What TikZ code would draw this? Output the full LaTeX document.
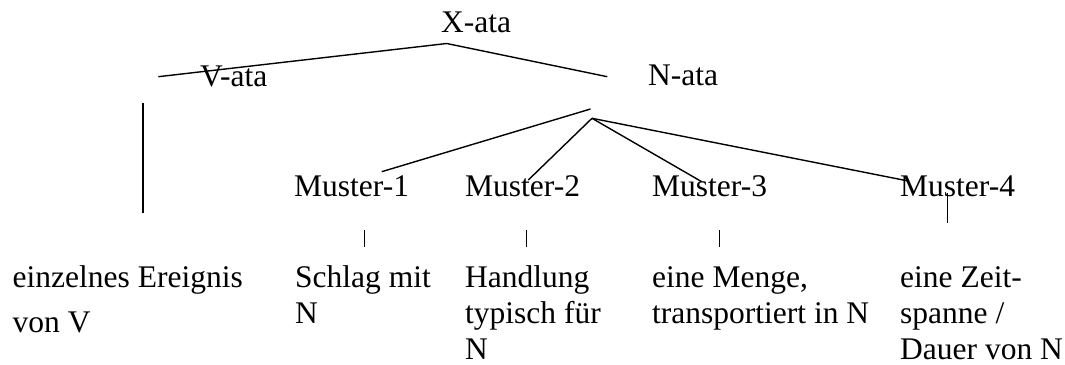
\documentclass[tikz,border=0pt]{standalone}
\usepackage{fontspec}
\setmainfont{Liberation Serif}
% lines of a gloss, stacked from the baseline of the first line
\newcommand{\glosslines}[1]{\vtop{\baselineskip=35.8pt\lineskiplimit=-100pt\halign{##\hfil\cr#1\crcr}}}
\begin{document}
\begin{tikzpicture}[x=1pt,y=-1pt,
  lbl/.style={anchor=base west,inner sep=0pt,font=\fontsize{31.5}{35.8}\selectfont},
  branch/.style={line width=1.4pt},
  tick/.style={line width=1pt}]
\useasboundingbox (0,0) rectangle (1065,364);
% labels of the tree
\node[lbl] (x)  at (441,32)  {X-ata};
\node[lbl] (v)  at (200,86)  {V-ata};
\node[lbl] (n)  at (648,85)  {N-ata};
\node[lbl] (m1) at (294,196) {Muster-1};
\node[lbl] (m2) at (465,196) {Muster-2};
\node[lbl] (m3) at (652,196) {Muster-3};
\node[lbl] (m4) at (900,196) {Muster-4};
% glosses
\node[lbl] (g0) at (12.5,287.5) {einzelnes Ereignis};
\node[lbl] (g0b) at (12.5,332) {von V};
\node[lbl] (g1) at (295,287.5) {\glosslines{Schlag mit\cr N}};
\node[lbl] (g2) at (465,287.5) {\glosslines{Handlung\cr typisch für\cr N}};
\node[lbl] (g3) at (652,287.5) {\glosslines{eine Menge,\cr transportiert in N}};
\node[lbl] (g4) at (900,287.5) {\glosslines{eine Zeit-\cr spanne /\cr Dauer von N}};
% branch points
\coordinate (xtop) at (446.7,43.5);
\coordinate (vend) at (158.3,76.7);
\coordinate (nend) at (607.3,76.7);
\coordinate (vtop) at (143,103);
\coordinate (vbot) at (143,213);
\coordinate (m1a) at (381.7,171.7);
\coordinate (m1b) at (590.5,109);
\coordinate (napex) at (592,118.3);
\coordinate (m2a) at (528.3,180);
\coordinate (m3a) at (701.7,181.7);
\coordinate (m4a) at (908.3,181);
\coordinate (t1a) at (364.3,230);   \coordinate (t1b) at (364.3,246.7);
\coordinate (t2a) at (526,230);     \coordinate (t2b) at (526,246.7);
\coordinate (t3a) at (719,230);     \coordinate (t3b) at (719,246.7);
\coordinate (t4a) at (947.7,193.3); \coordinate (t4b) at (947.7,223.3);
% branches
\draw[branch] (vend) -- (xtop) -- (nend);
\draw[branch] (vtop) -- (vbot);
\draw[branch] (m1a) -- (m1b);
\draw[branch] (napex) -- (m2a);
\draw[branch] (napex) -- (m3a);
\draw[branch] (napex) -- (m4a);
\draw[tick] (t1a) -- (t1b);
\draw[tick] (t2a) -- (t2b);
\draw[tick] (t3a) -- (t3b);
\draw[branch] (t4a) -- (t4b);
\end{tikzpicture}
\end{document}
